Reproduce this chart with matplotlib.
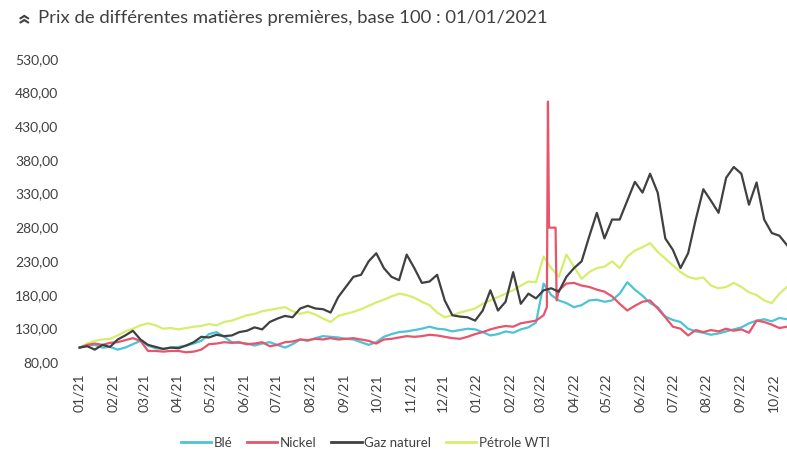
import numpy as np
import pandas as pd
import matplotlib
matplotlib.use("Agg")
import matplotlib.pyplot as plt
import matplotlib.dates as mdates
from matplotlib.ticker import FuncFormatter

plt.rcParams['font.family'] = ['Lato', 'DejaVu Sans']

# weekly values, base 100 on 01/01/2021
start = "2021-01-01"
ble = [100, 103, 104, 100, 101, 97, 100, 105, 110, 103, 99, 98, 100, 101, 103, 106,
       110, 120, 123, 116, 108, 107, 106, 103, 106, 108, 104, 100, 105, 112, 110, 114,
       117, 116, 115, 113, 112, 108, 104, 108, 116, 120, 123, 124, 126, 128, 131, 128,
       127, 124, 126, 128, 127, 123, 118, 120, 124, 122, 127, 130, 137, 195, 178, 170,
       166, 160, 163, 170, 171, 168, 170, 180, 197, 186, 177, 166, 160, 146, 141, 138,
       128, 124, 122, 119, 121, 124, 127, 130, 136, 140, 142, 139, 144, 142]
nickel = [100, 104, 106, 104, 107, 108, 111, 114, 110, 95, 95, 94, 95, 95, 93, 94,
          97, 105, 106, 108, 107, 108, 105, 106, 108, 102, 104, 108, 109, 112, 111, 113,
          112, 114, 112, 113, 114, 112, 110, 106, 112, 113, 115, 117, 116, 117, 119, 118,
          116, 114, 113, 116, 120, 123, 127, 130, 132, 131, 136, 138, 140, 148, 278, 185,
          195, 196, 192, 190, 186, 183, 176, 165, 155, 162, 168, 170, 158, 145, 131, 128,
          118, 126, 123, 126, 124, 128, 125, 127, 122, 140, 138, 134, 129, 131]
gaz = [100, 102, 97, 104, 101, 112, 118, 125, 112, 104, 101, 98, 100, 99, 103, 108,
       116, 115, 119, 117, 118, 123, 125, 130, 127, 138, 143, 147, 145, 158, 162, 158,
       157, 152, 175, 190, 205, 208, 228, 240, 218, 205, 200, 238, 218, 196, 198, 208,
       170, 148, 146, 145, 140, 155, 185, 155, 168, 212, 165, 180, 173, 185, 188, 183,
       205, 218, 228, 265, 300, 262, 290, 290, 318, 346, 330, 358, 330, 262, 245, 218,
       240, 290, 335, 318, 300, 352, 368, 358, 312, 345, 290, 270, 266, 252]
petrole = [100, 106, 110, 112, 113, 118, 124, 128, 133, 136, 133, 128, 129, 127, 129, 131,
           132, 135, 133, 138, 140, 144, 148, 150, 154, 156, 158, 160, 154, 150, 153, 149,
           143, 138, 147, 150, 153, 157, 162, 167, 171, 176, 180, 178, 174, 168, 163, 152,
           145, 148, 152, 155, 158, 165, 170, 175, 180, 185, 192, 198, 197, 235, 218, 205,
           238, 220, 202, 212, 218, 220, 228, 218, 235, 244, 249, 255, 242, 232, 222, 212,
           205, 202, 204, 192, 188, 190, 196, 190, 182, 178, 170, 166, 180, 190]

# nickel: LME squeeze in March 2022 (daily points)
nickel_extra_dates = ["2022-03-07", "2022-03-08", "2022-03-09", "2022-03-15", "2022-03-16"]
nickel_extra = [160, 465, 278, 278, 170]

names = ["Blé", "Nickel", "Gaz naturel", "Pétrole WTI"]
colors = ["#4cc3d6", "#e8546c", "#404040", "#d6ee6e"]

dates = pd.date_range(start, periods=len(gaz), freq="7D")
s_nickel = pd.concat([pd.Series(nickel, index=dates),
                      pd.Series(nickel_extra, index=pd.to_datetime(nickel_extra_dates))]).sort_index()

fig = plt.figure(figsize=(7.87, 4.56), dpi=100)
ax = fig.add_axes([0.0915, 0.206, 0.9085, 0.665])

txt = "#404040"
ax.plot(dates, petrole, color=colors[3], lw=1.6, zorder=1)
ax.plot(dates, ble, color=colors[0], lw=1.6, zorder=2)
ax.plot(s_nickel.index, s_nickel.values, color=colors[1], lw=1.6, zorder=3)
ax.plot(dates, gaz, color=colors[2], lw=1.6, zorder=4)

ax.set_ylim(80, 530)
ax.set_yticks(np.arange(80, 531, 50))
ax.yaxis.set_major_formatter(FuncFormatter(lambda v, p: f"{v:.2f}".replace(".", ",")))
ax.set_xlim(pd.Timestamp("2020-12-25"), pd.Timestamp("2022-10-14"))
ax.xaxis.set_major_locator(mdates.MonthLocator())
ax.xaxis.set_major_formatter(mdates.DateFormatter("%m/%y"))
ax.tick_params(axis="x", rotation=90, length=0, pad=8, labelsize=10, colors=txt)
ax.tick_params(axis="y", length=0, pad=10, labelsize=10, colors=txt)
for sp in ax.spines.values():
    sp.set_visible(False)

fig.text(0.016, 0.962, "»", rotation=90, fontsize=18, fontweight="bold", color=txt,
         ha="left", va="center")
fig.text(0.048, 0.96, "Prix de différentes matières premières, base 100 : 01/01/2021",
         fontsize=13.3, color=txt, ha="left", va="center")

handles = [plt.Line2D([], [], color=c, lw=2) for c in colors]
fig.legend(handles, names, loc="center", bbox_to_anchor=(0.464, 0.028), ncol=4,
           frameon=False, fontsize=9.5, handlelength=2.3, columnspacing=1.1,
           handletextpad=0.2, labelcolor=txt)

fig.savefig("out.png", dpi=100)
